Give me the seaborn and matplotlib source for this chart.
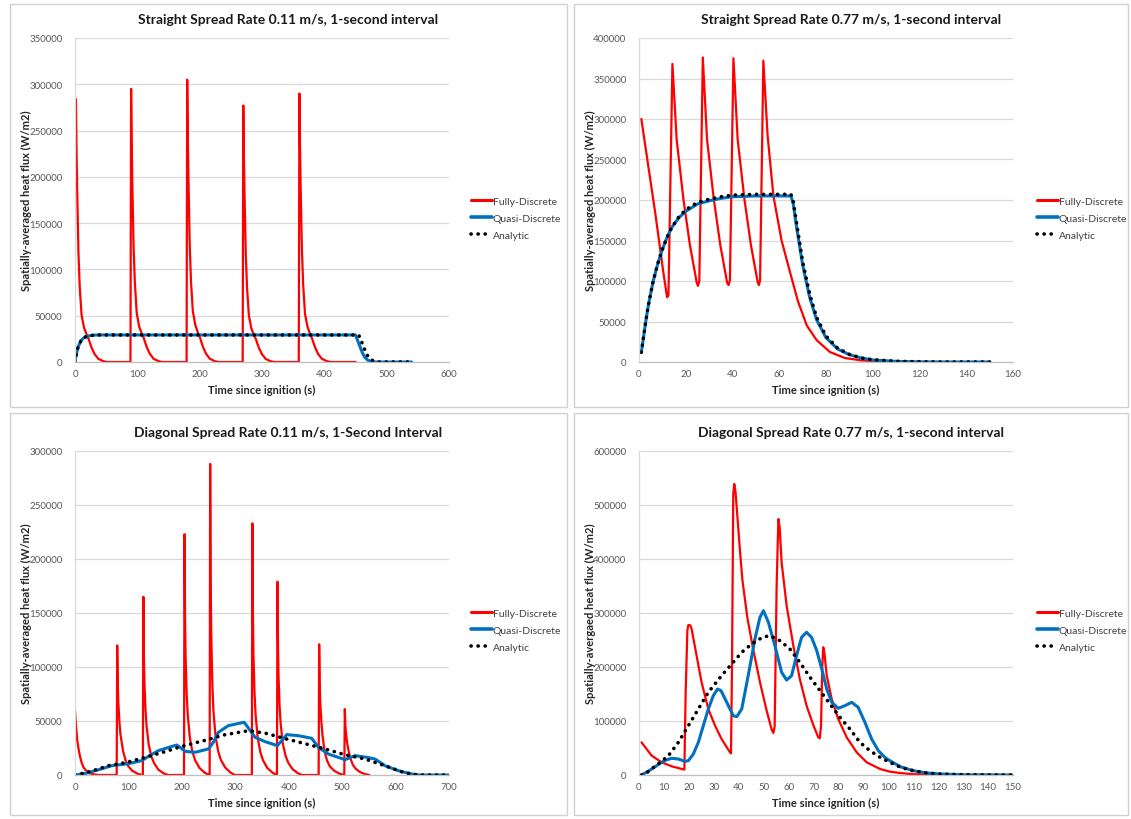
import matplotlib
matplotlib.use("Agg")
import matplotlib.pyplot as plt
from matplotlib.patches import Rectangle
from matplotlib.lines import Line2D
import seaborn as sns
import pandas as pd

# ---------------- Data: Straight 0.11 m/s ----------------
tl_fd_t = [0, 1.5, 2.5, 3.5, 5.5, 7.5, 10.5, 14.5, 18.5, 21.5, 26.5, 31.5, 37.5, 45.5, 51.5,
           89, 90, 91, 92, 94, 96, 99, 103, 107, 110, 115, 120, 126, 134, 140,
           179, 180, 181, 182, 184, 186, 189, 193, 197, 200, 205, 210, 216, 224, 230,
           269, 270, 271, 272, 274, 276, 279, 283, 287, 290, 295, 300, 306, 314, 320,
           359, 360, 361, 362, 364, 366, 369, 373, 377, 380, 385, 390, 396, 404, 410, 450]
tl_fd_v = [189000, 284000, 227000, 185000, 119000, 82000, 51000, 37000, 30000, 25500, 15600, 8500, 3400, 850, 0,
           0, 295000, 236000, 192000, 124000, 86000, 53000, 38000, 31000, 26500, 16200, 8900, 3500, 900, 0,
           0, 305000, 244000, 198000, 128000, 88000, 55000, 40000, 32000, 27500, 16800, 9200, 3700, 900, 0,
           0, 277000, 222000, 180000, 116000, 80000, 50000, 36000, 29000, 25000, 15200, 8300, 3300, 800, 0,
           0, 290000, 232000, 188000, 122000, 84000, 52000, 38000, 30500, 26000, 16000, 8700, 3500, 900, 0, 0]
tl_qd_t = [0, 2, 5, 10, 15, 20, 30, 40, 450, 453, 457, 461, 465, 470, 476, 482, 540]
tl_qd_v = [0, 8000, 16500, 23500, 26500, 28000, 29000, 29200, 29200, 24000, 17000, 10000, 5000, 1800, 300, 0, 0]
tl_an_t = [0, 2, 5, 10, 15, 20, 30, 40, 455, 458, 462, 466, 470, 475, 480, 488, 540]
tl_an_v = [0, 8000, 16500, 23500, 26500, 28000, 29000, 29200, 29200, 25000, 18000, 11000, 6000, 2500, 800, 0, 0]

# ---------------- Data: Straight 0.77 m/s ----------------
tr_fd_t = [1, 3.3, 6.9, 10.4, 12, 12.6, 14.3, 16.1, 19, 21.8, 24.7, 25.2, 25.8,
           27.3, 29.1, 32, 34.8, 37.7, 38.3, 38.9, 40.4, 42.2, 45.1, 47.9, 50.8, 51.3, 51.8,
           53.2, 55, 57.5, 61, 64.6, 68, 71.8, 76, 81.7, 88, 95, 105, 120, 150]
tr_fd_v = [300000, 255000, 185000, 111000, 80000, 82000, 368000, 275000, 201000, 144000, 98000, 94000, 100000,
           376000, 275000, 201000, 144000, 98000, 95000, 101000, 375000, 275000, 201000, 144000, 98000, 95000, 101000,
           372000, 280000, 205000, 150000, 111000, 75000, 45000, 27000, 12300, 5000, 2000, 500, 0, 0]
tr_qd_t = [1, 2, 3, 4, 6, 8, 10, 12, 14, 17, 20, 25, 30, 35, 40, 50, 65, 66, 67.5, 70, 73, 76, 80, 85, 90,
           95, 100, 110, 120, 130, 150]
tr_qd_v = [12000, 32000, 52000, 70000, 99000, 121000, 139000, 154000, 166000, 178000, 186000, 195000, 199000,
           202000, 204000, 205000, 205000, 195000, 165000, 120000, 80000, 52000, 30000, 16000, 9000,
           5000, 2500, 800, 200, 0, 0]
tr_an_t = [1, 2, 3, 4, 6, 8, 10, 12, 14, 17, 20, 25, 30, 35, 40, 50, 65, 66, 67.5, 70, 73, 76, 80, 85, 90,
           95, 100, 110, 120, 130, 150]
tr_an_v = [12000, 32000, 52000, 70000, 99000, 121000, 139000, 154000, 166000, 179000, 188000, 197000, 201000,
           204000, 206000, 207000, 207000, 198000, 170000, 124000, 84000, 55000, 32000, 17000, 9500,
           5000, 2800, 900, 300, 0, 0]

# ---------------- Data: Diagonal 0.11 m/s ----------------
bl_fd_t = [0, 2, 4, 6, 9, 12, 16, 20, 28, 38, 46,
           78, 79, 80, 81, 83, 85, 90, 95, 100, 107, 117, 125,
           127, 128, 129, 130, 132, 134, 138, 143, 148, 156, 166, 174,
           204, 205, 206, 207, 209, 211, 215, 220, 225, 233, 243, 251,
           252, 253, 254, 255, 257, 259, 263, 268, 273, 281, 291, 299,
           331, 332, 333, 334, 336, 338, 342, 347, 352, 360, 370, 377,
           378, 379, 380, 381, 383, 385, 389, 394, 399, 407, 417, 425,
           456, 457, 458, 459, 461, 463, 467, 472, 477, 485, 495, 503,
           504, 505, 506, 507, 509, 511, 515, 520, 525, 533, 543, 551]
bl_fd_v = [60000, 45000, 33000, 26000, 18000, 12000, 7000, 4500, 1500, 300, 0,
           0, 120000, 85000, 68000, 50000, 38000, 22000, 13000, 8000, 4000, 1200, 0,
           0, 165000, 110000, 85000, 60000, 45000, 28000, 17000, 11000, 5000, 1500, 0,
           0, 223000, 145000, 110000, 75000, 56000, 34000, 21000, 13500, 6500, 2000, 0,
           0, 288000, 180000, 130000, 85000, 60000, 36000, 22000, 14000, 7000, 2200, 0,
           0, 233000, 150000, 112000, 76000, 56000, 34000, 21000, 13500, 6500, 2000, 0,
           0, 179000, 118000, 90000, 63000, 47000, 29000, 18000, 11500, 5500, 1700, 0,
           0, 121000, 85000, 68000, 50000, 38000, 22000, 13000, 8000, 4000, 1200, 0,
           0, 61000, 46000, 40000, 31000, 25000, 16000, 9500, 6000, 2800, 800, 0]
bl_qd_t = [0, 20, 45, 68.6, 100, 124.8, 140, 156, 175, 190.3, 196.6, 206, 224.6, 249.6, 259, 268.3, 287,
           316.4, 321.3, 337, 355.7, 378.8, 386.9, 396.3, 418, 443, 455.5, 474.2, 505.4, 524, 545, 561.5,
           580.2, 605.2, 630, 645, 700]
bl_qd_v = [0, 1500, 5000, 8600, 10500, 13300, 18000, 22500, 25500, 27800, 25600, 21900, 21000, 24100, 30300,
           39500, 45700, 48800, 45700, 34900, 30900, 27200, 31800, 37400, 36400, 34000, 25600, 19400, 14200,
           17900, 16500, 14800, 8600, 4000, 900, 0, 0]
bl_an_t = [0, 20, 40, 62.4, 95, 124.8, 168.5, 199.7, 243.4, 280.8, 324.5, 355.7, 393.1, 436.8, 468, 505.4,
           542.9, 580, 611.5, 633, 650, 700]
bl_an_v = [0, 2000, 5000, 8600, 11500, 15400, 21600, 26500, 32100, 37300, 41000, 38800, 33700, 28200, 24100,
           18800, 14800, 8600, 3000, 500, 0, 0]

# ---------------- Data: Diagonal 0.77 m/s ----------------
br_fd_t = [1, 5.1, 9.1, 13.1, 18.2, 18.7, 19.4, 19.8, 20.6, 21.1, 23.1, 25.1, 27.8, 30.5, 33.1, 36.5, 36.9,
           37.3, 37.8, 38.2, 38.7, 40.5, 41.5, 43.5, 46, 48.7, 51.2, 53.2, 53.9,
           54.4, 55.2, 55.9, 56.4, 57.2, 59.2, 61.9, 64.5, 67.2, 69.9, 71.9, 72.5,
           73, 73.5, 73.9, 74.4, 75.3, 77.3, 79.9, 83.3, 87.3, 91.3, 96.7, 100.6, 105, 110, 120, 130, 150]
br_fd_v = [60500, 35800, 23500, 16100, 9900, 150000, 268000, 277800, 277000, 270400, 221000, 171700, 122200,
           91400, 66700, 42000, 40000,
           200000, 520000, 539000, 525000, 415000, 360000, 290000, 228000, 168000, 119100, 84200, 77800,
           90000, 350000, 474000, 460000, 393900, 313600, 239500, 177800, 128400, 92600, 69800, 68000,
           90000, 200000, 236500, 225000, 183900, 140800, 103700, 69800, 42000, 23500, 11100, 6200, 3500, 1500,
           300, 0, 0]
br_qd_t = [1, 3, 5.1, 7, 9.1, 11, 13.1, 15.8, 18.4, 19.8, 21.8, 23.8, 25.8, 27.8, 29.8, 31.5, 32.9, 35.2,
           37.8, 39.2, 41.2, 43.8, 46.5, 48.5, 49.9, 51.9, 54.5, 57.2, 59.2, 61.2, 63.2, 65.2, 67.2, 69.2,
           71.3, 73.3, 75.3, 77.3, 79.9, 82.6, 85.3, 87.9, 90.6, 93.3, 96, 98.6, 100.6, 105, 110, 115, 120,
           130, 150]
br_qd_v = [0, 5000, 11100, 17000, 23500, 28000, 30900, 29600, 25300, 26500, 38900, 60500, 91400, 122200,
           146900, 159300, 156200, 134600, 109800, 108000, 122200, 183900, 251900, 292000, 304300, 282800,
           239500, 190200, 175900, 183900, 221000, 255000, 264300, 255000, 230200, 196300, 159300, 134600,
           123500, 128400, 134600, 125400, 97600, 66700, 45000, 32700, 26500, 15000, 8000, 4000, 2000,
           500, 0]
br_an_t = [1, 3, 6.4, 9, 11.8, 15.8, 19.8, 23.8, 27.8, 33.1, 37.2, 41.2, 45.2, 49.5, 52.5, 56.5, 60.5, 64.5,
           68.6, 72.6, 76.6, 80.6, 84.6, 88.6, 92.6, 96.7, 100.6, 105, 110, 115, 120, 130, 150]
br_an_v = [0, 4000, 16100, 25000, 35800, 60500, 91400, 122200, 153100, 183900, 205600, 227200, 242600,
           255000, 258000, 248800, 233400, 208700, 180900, 156200, 131500, 106800, 85200, 60500, 45000,
           32700, 23500, 14000, 8000, 4000, 2000, 500, 0]

panels = [
    dict(title="Straight Spread Rate 0.11 m/s, 1-second interval",
         ylabel="Spatially-averaged heat flux (W/m2)",
         fd=(tl_fd_t, tl_fd_v), qd=(tl_qd_t, tl_qd_v), an=(tl_an_t, tl_an_v),
         xlim=(0, 600), xstep=100, ylim=(0, 350000), ystep=50000),
    dict(title="Straight Spread Rate 0.77 m/s, 1-second interval",
         ylabel="Spatially-averaged heat flux (W/m2)",
         fd=(tr_fd_t, tr_fd_v), qd=(tr_qd_t, tr_qd_v), an=(tr_an_t, tr_an_v),
         xlim=(0, 160), xstep=20, ylim=(0, 400000), ystep=50000),
    dict(title="Diagonal Spread Rate 0.11 m/s, 1-Second Interval",
         ylabel="Spatially-averaged heat flux (W/m2)",
         fd=(bl_fd_t, bl_fd_v), qd=(bl_qd_t, bl_qd_v), an=(bl_an_t, bl_an_v),
         xlim=(0, 700), xstep=100, ylim=(0, 300000), ystep=50000),
    dict(title="Diagonal Spread Rate 0.77 m/s, 1-second interval",
         ylabel="Spatially-avergaed heat flux (W/m2)",
         fd=(br_fd_t, br_fd_v), qd=(br_qd_t, br_qd_v), an=(br_an_t, br_an_v),
         xlim=(0, 150), xstep=10, ylim=(0, 600000), ystep=100000),
]

sns.set_theme(style="white")
FONT = ["Lato", "DejaVu Sans"]
plt.rcParams["font.family"] = FONT

W, H = 1131, 820
fig = plt.figure(figsize=(W / 100, H / 100), dpi=100)

# axes rectangles in pixel coords (left, top, right, bottom)
ax_px = [(75, 39, 449, 363), (639, 39, 1013, 363), (75, 452, 449, 776), (639, 452, 1013, 776)]
box_px = [(10, 5, 567, 408), (574, 5, 1128, 408), (10, 414, 567, 816), (574, 414, 1128, 816)]
title_y = [20, 20, 433, 433]
legend_px = [(463, 219), (1029, 219), (463, 631), (1029, 631)]

RED = "#ff0000"
BLUE = "#0070c0"
GRID = "#d9d9d9"
TICK = "#595959"

for i, p in enumerate(panels):
    bx0, by0, bx1, by1 = box_px[i]
    fig.patches.append(Rectangle((bx0 / W, 1 - by1 / H), (bx1 - bx0) / W, (by1 - by0) / H,
                                 transform=fig.transFigure, fill=False, edgecolor="#d0d0d0",
                                 linewidth=1.0, zorder=0))
    l, t, r, b = ax_px[i]
    ax = fig.add_axes([l / W, 1 - b / H, (r - l) / W, (b - t) / H])
    ax.set_facecolor("none")

    df_fd = pd.DataFrame({"t": p["fd"][0], "v": p["fd"][1]})
    df_qd = pd.DataFrame({"t": p["qd"][0], "v": p["qd"][1]})
    df_an = pd.DataFrame({"t": p["an"][0], "v": p["an"][1]})
    sns.lineplot(data=df_fd, x="t", y="v", ax=ax, color=RED, linewidth=1.6,
                 estimator=None, sort=False, legend=False)
    sns.lineplot(data=df_qd, x="t", y="v", ax=ax, color=BLUE, linewidth=2.2,
                 estimator=None, sort=False, legend=False)
    sns.lineplot(data=df_an, x="t", y="v", ax=ax, color="black", linewidth=2.6,
                 estimator=None, sort=False, legend=False)
    for ln in ax.lines:
        ln.set_solid_joinstyle("round")
    an_line = ax.lines[-1]
    an_line.set_linestyle((0, (0.05, 1.9)))
    an_line.set_dash_capstyle("round")

    ax.set_xlim(*p["xlim"])
    ax.set_ylim(*p["ylim"])
    ax.set_xticks(list(range(p["xlim"][0], p["xlim"][1] + 1, p["xstep"])))
    ax.set_yticks(list(range(p["ylim"][0], p["ylim"][1] + 1, p["ystep"])))
    ax.yaxis.grid(True, color=GRID, linewidth=0.9)
    ax.xaxis.grid(False)
    ax.set_axisbelow(True)
    for s in ["top", "right"]:
        ax.spines[s].set_visible(False)
    ax.spines["left"].set_color(GRID)
    ax.spines["left"].set_linewidth(0.9)
    ax.spines["bottom"].set_color("#bfbfbf")
    ax.spines["bottom"].set_linewidth(0.9)
    ax.tick_params(axis="both", length=0, labelsize=7, labelcolor=TICK)
    ax.tick_params(axis="y", pad=9)
    ax.tick_params(axis="x", pad=5)

    ax.set_xlabel("Time since ignition (s)", fontsize=8, fontweight="bold", color="#262626")
    ax.set_ylabel(p["ylabel"], fontsize=8, fontweight="bold", color="#262626")
    ax.xaxis.set_label_coords(0.5, -0.068)
    ax.yaxis.set_label_coords(-0.115, 0.5)

    fig.text(((bx0 + bx1) / 2) / W, 1 - title_y[i] / H, p["title"], ha="center", va="center",
             fontsize=10, fontweight="bold", color="#1a1a1a")

    handles = [Line2D([], [], color=RED, linewidth=2.2),
               Line2D([], [], color=BLUE, linewidth=2.6),
               Line2D([], [], color="black", linewidth=2.6, linestyle=(0, (0.05, 1.9)),
                      dash_capstyle="round")]
    lx, ly = legend_px[i]
    ax.legend(handles, ["Fully-Discrete", "Quasi-Discrete", "Analytic"],
              loc="center left", bbox_to_anchor=(lx / W, 1 - ly / H),
              bbox_transform=fig.transFigure, frameon=False, fontsize=7.5,
              handlelength=2.0, handletextpad=0.05, labelspacing=0.75, borderpad=0.3,
              labelcolor="#404040")

fig.savefig("out.png", dpi=100, facecolor="white")
